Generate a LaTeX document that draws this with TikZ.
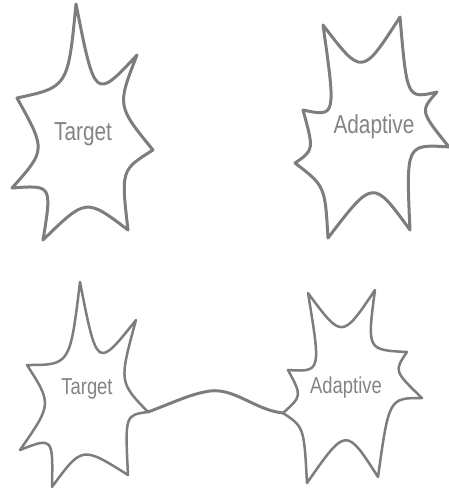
\documentclass[tikz,border=0pt]{standalone}
\usepackage{fontspec}
\newfontfamily\cellfont[FakeStretch=0.8]{Liberation Sans}
\definecolor{cLine}{RGB}{125,125,125}
\definecolor{cText}{RGB}{132,132,132}
\tikzset{
	cell/.style     ={draw=cLine, line width=3pt, line join=round, fill=white},
	cellthin/.style ={draw=cLine, line width=2.5pt, line join=round, fill=white},
	label/.style    ={text=cText, font=\cellfont\fontsize{26}{26}\selectfont, inner sep=0pt},
	labelsm/.style  ={text=cText, font=\cellfont\fontsize{23}{23}\selectfont, inner sep=0pt},
	axon/.style     ={draw=cLine, line width=3pt, line cap=round},
}
\begin{document}
\begin{tikzpicture}[x=1pt, y=-1pt]
	\useasboundingbox (0,0) rectangle (449,491);
	% top row: two separate cells
	\draw[cell] (76,4) .. controls (95,100) .. (137,55) .. controls (117,106) .. (153,150)
		.. controls (121,170) .. (128,230) .. controls (86,198) .. (43,240)
		.. controls (52,185) .. (12,188) .. controls (46,150) .. (17,98)
		.. controls (68,87) .. cycle;
	\draw[cell] (323,25) .. controls (362,76) .. (400,17) .. controls (407,99) .. (437,92)
		.. controls (420,111) .. (449,147) .. controls (406,144) .. (410,230)
		.. controls (373,179) .. (328,238) .. controls (325,186) .. (295,163)
		.. controls (314,150) .. (303,110) .. controls (336,117) .. cycle;
	\node[label] (tgtA) at (83,134) {Target};
	\node[label] (adpA) at (374,127) {Adaptive};
	% bottom row: cells joined by an axon
	\coordinate (tgtJ) at (148,412);
	\coordinate (adpJ) at (283,413);
	\draw[axon] (tgtJ) .. controls (175,402) and (190,394) .. (210,391)
		.. controls (235,388) and (255,410) .. (adpJ);
	\draw[cellthin] (80,282) .. controls (97,369) .. (136,320) .. controls (119,382) .. (tgtJ)
		.. controls (125,415) .. (128,475) .. controls (82,446) .. (52,487)
		.. controls (53,437) .. (20,450) .. controls (52,404) .. (27,365)
		.. controls (70,365) .. cycle;
	\draw[cellthin] (adpJ) .. controls (302,396) .. (288,370) .. controls (321,372) .. (308,293)
		.. controls (342,339) .. (375,290) .. controls (367,350) .. (407,352)
		.. controls (394,371) .. (422,398) .. controls (389,398) .. (378,477)
		.. controls (346,427) .. (307,483) .. controls (304,427) .. cycle;
	\node[labelsm] (tgtB) at (87,389) {Target};
	\node[labelsm] (adpB) at (346,388) {Adaptive};
\end{tikzpicture}
\end{document}
